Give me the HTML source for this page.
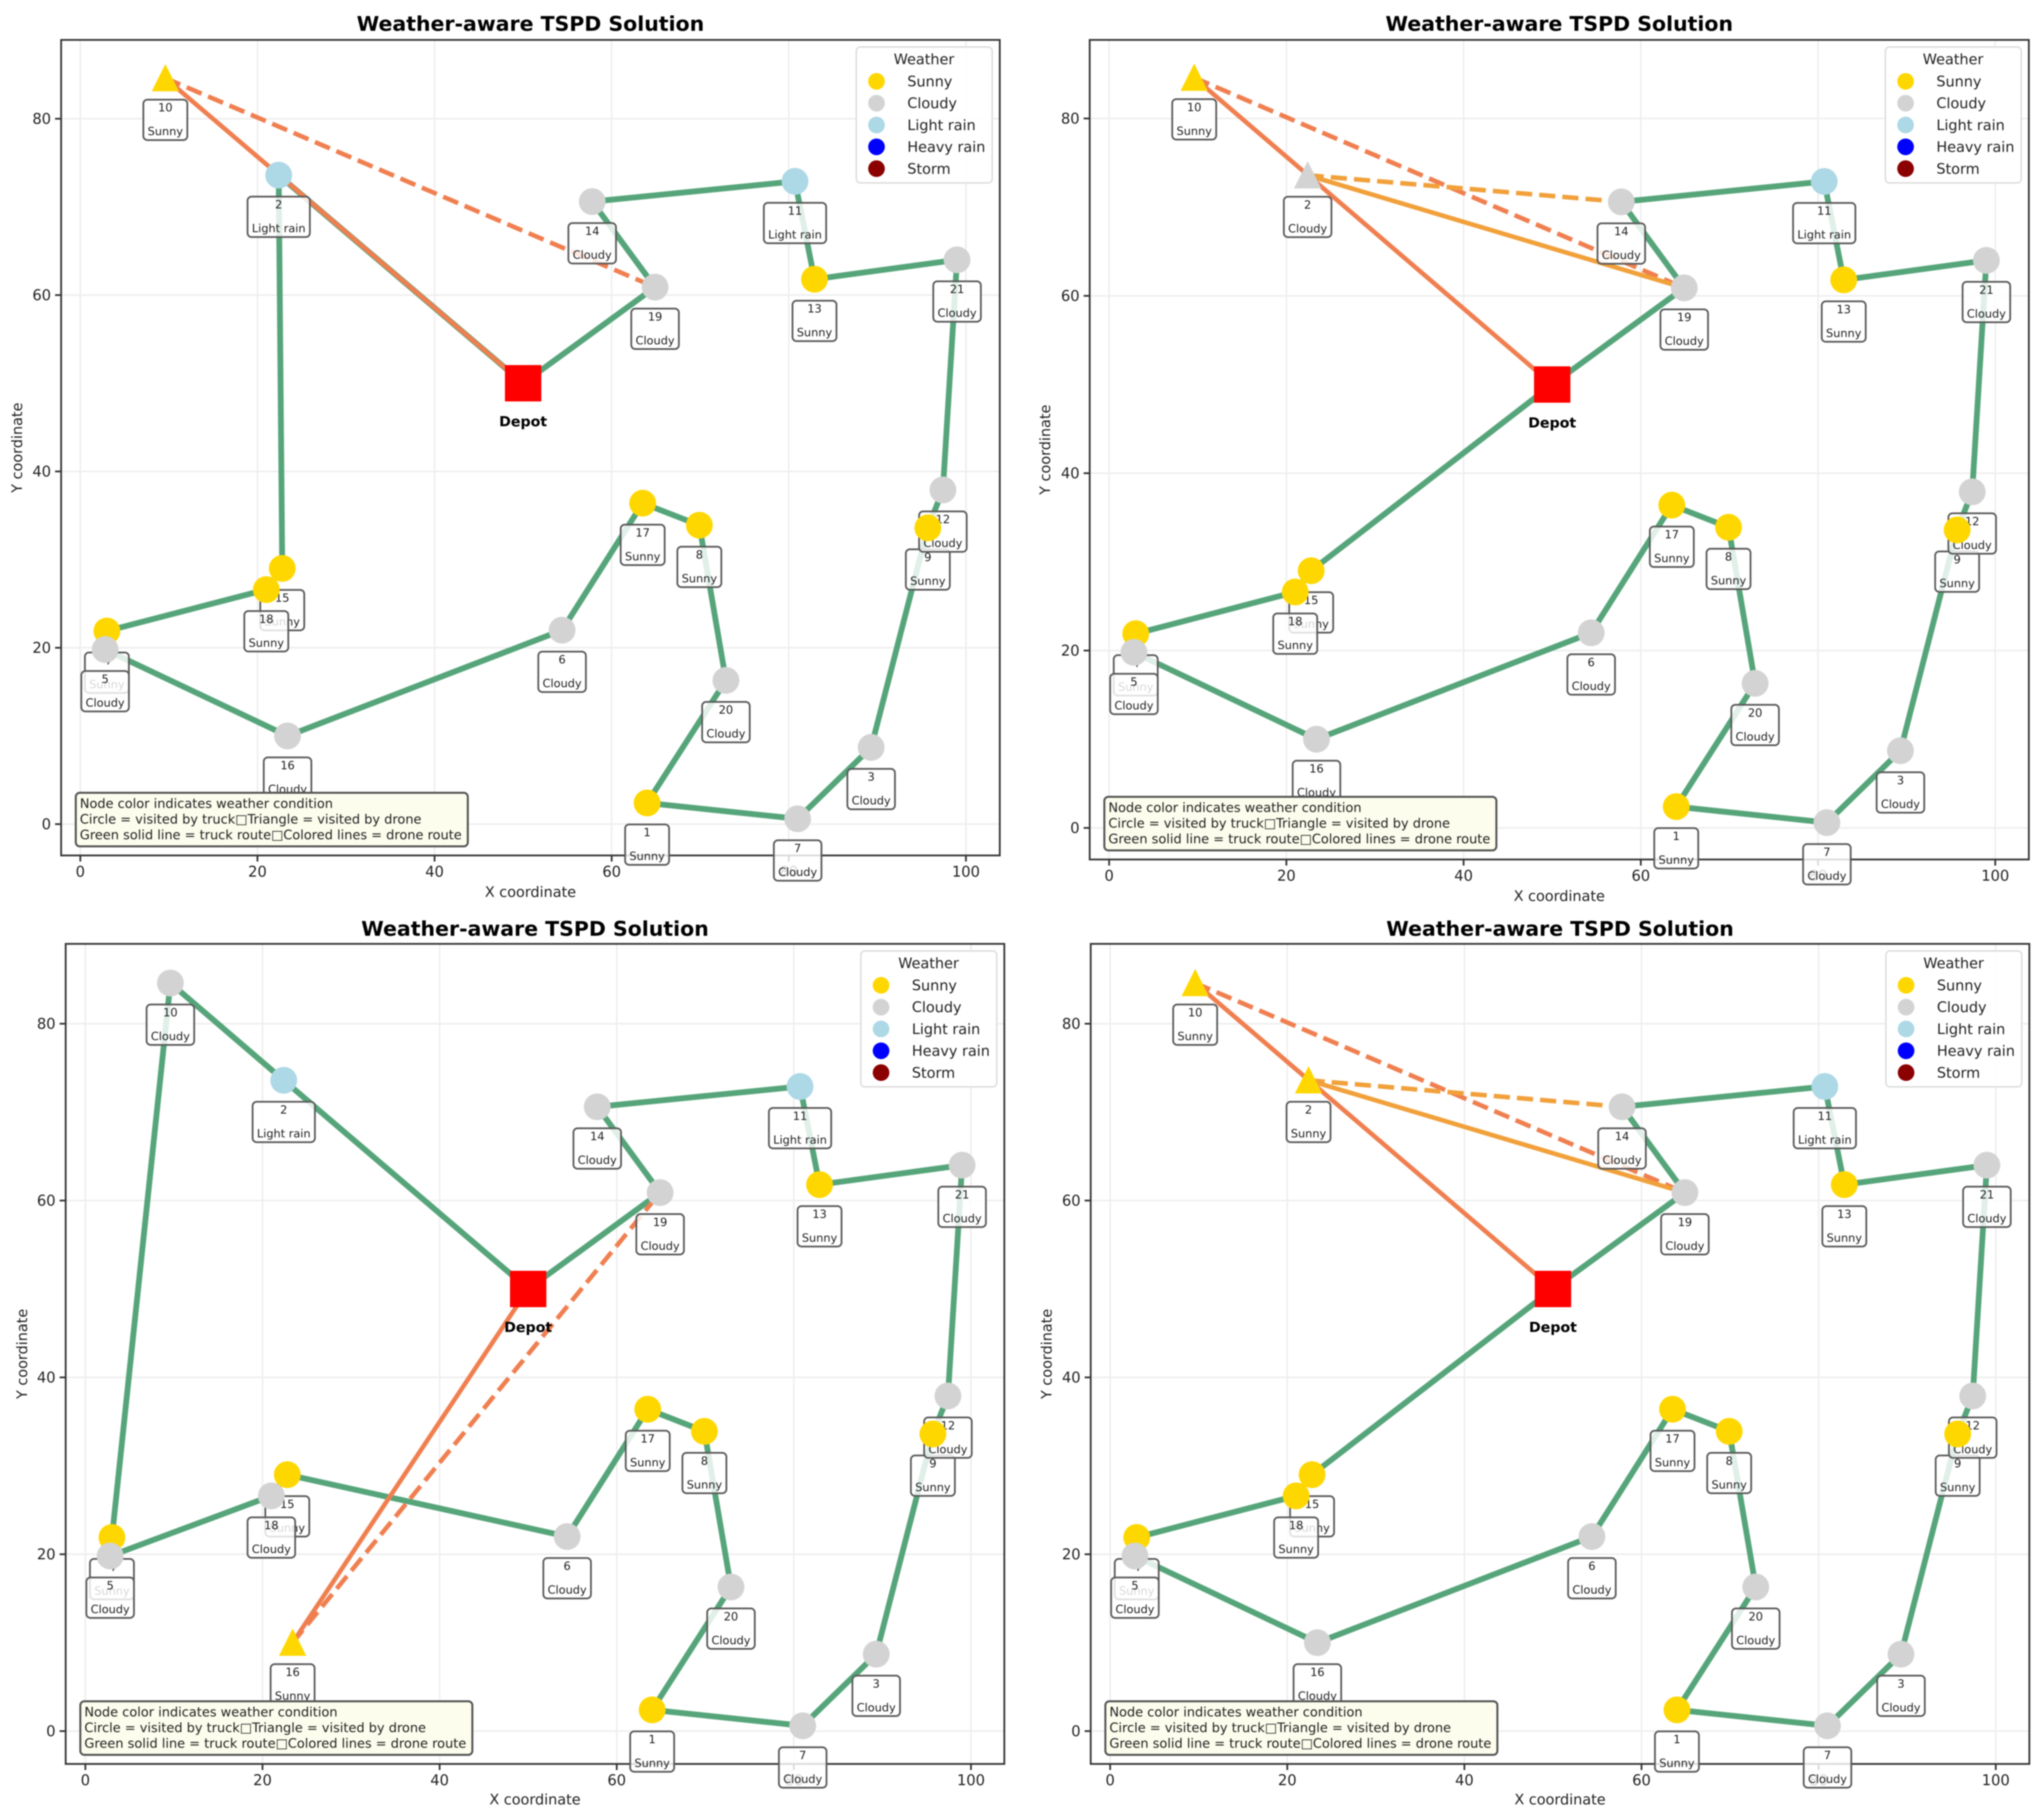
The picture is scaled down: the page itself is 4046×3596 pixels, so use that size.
<!DOCTYPE html>
<html lang="en">
<head>
<meta charset="utf-8">
<title>Weather-aware TSPD Solution</title>
<style>
html,body{margin:0;padding:0;background:#fff;}
#figure{display:block;width:4046px;height:3596px;font-family:"DejaVu Sans","Liberation Sans",sans-serif;filter:blur(1.3px);}
</style>
</head>
<body>
<svg id="figure" xmlns="http://www.w3.org/2000/svg" width="4046" height="3596" viewBox="0 0 4046 3596">
<rect x="0" y="0" width="4046" height="3596" fill="#ffffff"></rect>
</svg>
<script>
// ---------- chart data ----------
const nodeIds = [1,2,3,4,5,6,7,8,9,10,11,12,13,14,15,16,17,18,19,20,21];
const nodeX = [64,22.4,89.3,3.0,2.8,54.4,81,69.9,95.7,9.6,80.7,97.4,82.9,57.8,22.8,23.4,63.5,21,64.9,72.9,99];
const nodeY = [2.4,73.6,8.7,21.9,19.8,22,0.6,33.9,33.6,84.6,72.9,37.9,61.8,70.6,29,10,36.4,26.6,60.9,16.3,64];
const depotX = 50;
const depotY = 50;

const weatherPanel1 = ["Sunny","Light rain","Cloudy","Sunny","Cloudy","Cloudy","Cloudy","Sunny","Sunny","Sunny","Light rain","Cloudy","Sunny","Cloudy","Sunny","Cloudy","Sunny","Sunny","Cloudy","Cloudy","Cloudy"];
const weatherPanel2 = ["Sunny","Cloudy","Cloudy","Sunny","Cloudy","Cloudy","Cloudy","Sunny","Sunny","Sunny","Light rain","Cloudy","Sunny","Cloudy","Sunny","Cloudy","Sunny","Sunny","Cloudy","Cloudy","Cloudy"];
const weatherPanel3 = ["Sunny","Light rain","Cloudy","Sunny","Cloudy","Cloudy","Cloudy","Sunny","Sunny","Cloudy","Light rain","Cloudy","Sunny","Cloudy","Sunny","Sunny","Sunny","Cloudy","Cloudy","Cloudy","Cloudy"];
const weatherPanel4 = ["Sunny","Sunny","Cloudy","Sunny","Cloudy","Cloudy","Cloudy","Sunny","Sunny","Sunny","Light rain","Cloudy","Sunny","Cloudy","Sunny","Cloudy","Sunny","Sunny","Cloudy","Cloudy","Cloudy"];

const truckPanel1 = [0,19,14,11,13,21,12,9,3,7,1,20,8,17,6,16,5,4,18,15,2,0];
const truckPanel2 = [0,19,14,11,13,21,12,9,3,7,1,20,8,17,6,16,5,4,18,15,0];
const truckPanel3 = [0,19,14,11,13,21,12,9,3,7,1,20,8,17,6,15,18,5,4,10,2,0];
const truckPanel4 = [0,19,14,11,13,21,12,9,3,7,1,20,8,17,6,16,5,4,18,15,0];

// each sortie: start, drone-visited node, end (first leg solid, second leg dashed)
const dronePanel1 = [[0,10,19]];
const dronePanel2 = [[0,10,19],[19,2,14]];
const dronePanel3 = [[0,16,19]];
const dronePanel4 = [[0,10,19],[19,2,14]];

const xTickLabels = [0,20,40,60,80,100];
const yTickLabels = [0,20,40,60,80];
const legendLabels = ["Sunny","Cloudy","Light rain","Heavy rain","Storm"];
const legendColors = ["#ffd700","#d3d3d3","#add8e6","#0000ff","#8b0000"];
const droneColors = ["#f07f50","#f1a03a"];
const infoLines = ["Node color indicates weather condition","Circle = visited by truck\u25A1Triangle = visited by drone","Green solid line = truck route\u25A1Colored lines = drone route"];

const allWeather = [weatherPanel1,weatherPanel2,weatherPanel3,weatherPanel4];
const allTruck = [truckPanel1,truckPanel2,truckPanel3,truckPanel4];
const allDrone = [dronePanel1,dronePanel2,dronePanel3,dronePanel4];

// ---------- layout of each axes box ----------
const frames = [
  {l:121,r:1979,t:79,b:1693,x0:159,xk:17.53,y0:1631,yk:17.45,titleY:46,xLabelY:1765,yLabelX:34},
  {l:2157,r:4016,t:79,b:1701,x0:2195.5,xk:17.54,y0:1638.5,yk:17.55,titleY:46,xLabelY:1773,yLabelX:2069},
  {l:130,r:1988,t:1868,b:3491,x0:169,xk:17.53,y0:3426,yk:17.5,titleY:1837,xLabelY:3561,yLabelX:44},
  {l:2159,r:4017,t:1868,b:3491,x0:2197.5,xk:17.53,y0:3426,yk:17.5,titleY:1837,xLabelY:3561,yLabelX:2072}
];

const NS = "http://www.w3.org/2000/svg";
const root = document.getElementById("figure");
function mk(parent, tag, attrs, txt){
  const el = document.createElementNS(NS, tag);
  for(const k in attrs){ el.setAttribute(k, attrs[k]); }
  if(txt !== undefined){ el.textContent = txt; }
  parent.appendChild(el);
  return el;
}
function colorOf(w){ return legendColors[legendLabels.indexOf(w)]; }

frames.forEach(function(f, p){
  const sx = function(v){ return f.x0 + f.xk * v; };
  const sy = function(v){ return f.y0 - f.yk * v; };
  const px = function(id){ return id === 0 ? sx(depotX) : sx(nodeX[id-1]); };
  const py = function(id){ return id === 0 ? sy(depotY) : sy(nodeY[id-1]); };
  const weather = allWeather[p];

  const g = mk(root, "g", {});
  
  

  // grid and ticks
  xTickLabels.forEach(function(v){
    const gl = mk(g, "line", {x1:sx(v),x2:sx(v),y1:f.t,y2:f.b,stroke:"#eeeeee","stroke-width":3});
    
    
    const tk = mk(g, "line", {x1:sx(v),x2:sx(v),y1:f.b,y2:f.b+12,stroke:"#333333","stroke-width":3.5});
    
    
    const tl = mk(g, "text", {x:sx(v),y:f.b+42,"font-size":29,"text-anchor":"middle",fill:"#222222"}, String(v));
    
    
  });
  yTickLabels.forEach(function(v){
    const gl = mk(g, "line", {x1:f.l,x2:f.r,y1:sy(v),y2:sy(v),stroke:"#eeeeee","stroke-width":3});
    
    
    const tk = mk(g, "line", {x1:f.l-12,x2:f.l,y1:sy(v),y2:sy(v),stroke:"#333333","stroke-width":3.5});
    
    
    const tl = mk(g, "text", {x:f.l-20,y:sy(v)+10,"font-size":29,"text-anchor":"end",fill:"#222222"}, String(v));
    
    
  });

  // spines (label boxes sit on top of them)
  const sp = mk(g, "rect", {x:f.l,y:f.t,width:f.r-f.l,height:f.b-f.t,fill:"none",stroke:"#333333","stroke-width":3.5});
  
  

  // truck route
  const truckPts = allTruck[p].map(function(id){ return px(id)+","+py(id); }).join(" ");
  const truck = mk(g, "polyline", {points:truckPts,fill:"none",stroke:"#56a57a","stroke-width":11.5,"stroke-linejoin":"round"});
  
  

  // drone routes
  allDrone[p].forEach(function(s, i){
    const solid = mk(g, "line", {x1:px(s[0]),y1:py(s[0]),x2:px(s[1]),y2:py(s[1]),stroke:droneColors[i],"stroke-width":9});
    
    
    const dash = mk(g, "line", {x1:px(s[1]),y1:py(s[1]),x2:px(s[2]),y2:py(s[2]),stroke:droneColors[i],"stroke-width":9,"stroke-dasharray":"32 14"});
    
    
  });

  // node label boxes
  nodeIds.forEach(function(id, i){
    const cx = px(id), top = py(id) + 42.5;
    const box = mk(g, "rect", {x:cx-44,y:top,width:88,height:80,rx:8,ry:8,fill:"#ffffff","fill-opacity":0.82,stroke:"#5a5a5a","stroke-width":3.5});
    
    
    const num = mk(g, "text", {x:cx,y:top+23.5,"font-size":22.4,"text-anchor":"middle",fill:"#222222"}, String(id));
    
    
    const wt = mk(g, "text", {x:cx,y:top+70.5,"font-size":22.4,"text-anchor":"middle",fill:"#222222"}, weather[i]);
    
    
    const w = wt.getComputedTextLength() + 17;
    box.setAttribute("x", cx - w/2);
    box.setAttribute("width", w);
  });

  // nodes
  const droneNodes = allDrone[p].map(function(s){ return s[1]; });
  nodeIds.forEach(function(id, i){
    const cx = px(id), cy = py(id), c = colorOf(weather[i]);
    if(droneNodes.indexOf(id) >= 0){
      const tri = mk(g, "polygon", {points:(cx)+","+(cy-28)+" "+(cx-27)+","+(cy+26)+" "+(cx+27)+","+(cy+26),fill:c});
      
      
    } else {
      const cir = mk(g, "circle", {cx:cx,cy:cy,r:26.5,fill:c});
      
      
    }
  });

  // depot
  const dp = mk(g, "rect", {x:sx(depotX)-36,y:sy(depotY)-36,width:72,height:72,fill:"#ff0000"});
  
  
  const dl = mk(g, "text", {x:sx(depotX),y:sy(depotY)+85,"font-size":28,"font-weight":"bold","text-anchor":"middle",fill:"#000000"}, "Depot");
  
  

  // legend
  const lx = f.r - 284, ly = f.t + 14;
  const lb = mk(g, "rect", {x:lx,y:ly,width:269,height:269,rx:8,ry:8,fill:"#ffffff","fill-opacity":0.9,stroke:"#dddddd","stroke-width":3});
  
  
  const lt = mk(g, "text", {x:lx+134,y:ly+34,"font-size":28.5,"text-anchor":"middle",fill:"#222222"}, "Weather");
  
  
  legendLabels.forEach(function(name, i){
    const ey = ly + 68 + i*43.2;
    const m = mk(g, "circle", {cx:lx+40,cy:ey,r:16.5,fill:legendColors[i]});
    
    
    const t = mk(g, "text", {x:lx+101,y:ey+10,"font-size":28.5,fill:"#222222"}, name);
    
    
  });

  // info box
  const ib = mk(g, "rect", {x:f.l+29,y:f.b-124,width:776,height:106,rx:8,ry:8,fill:"#fdfdee",stroke:"#555555","stroke-width":4});
  
  
  infoLines.forEach(function(line, i){
    const t = mk(g, "text", {x:f.l+37,y:f.b-94+i*31,"font-size":25.6,fill:"#222222"}, line);
    
    
  });

  // titles
  const cx = (f.l + f.r) / 2;
  const title = mk(g, "text", {x:cx,y:f.titleY+15,"font-size":40.5,"font-weight":"bold","text-anchor":"middle",fill:"#000000"}, "Weather-aware TSPD Solution");
  
  
  const xl = mk(g, "text", {x:cx,y:f.xLabelY+10,"font-size":28.5,"text-anchor":"middle",fill:"#222222"}, "X coordinate");
  
  
  const cy = (f.t + f.b) / 2;
  const yl = mk(g, "text", {x:f.yLabelX,y:cy,"font-size":28.5,"text-anchor":"middle",fill:"#222222",transform:"rotate(-90 "+f.yLabelX+" "+cy+")","dominant-baseline":"central"}, "Y coordinate");
  
  
});
</script>
</body>
</html>
